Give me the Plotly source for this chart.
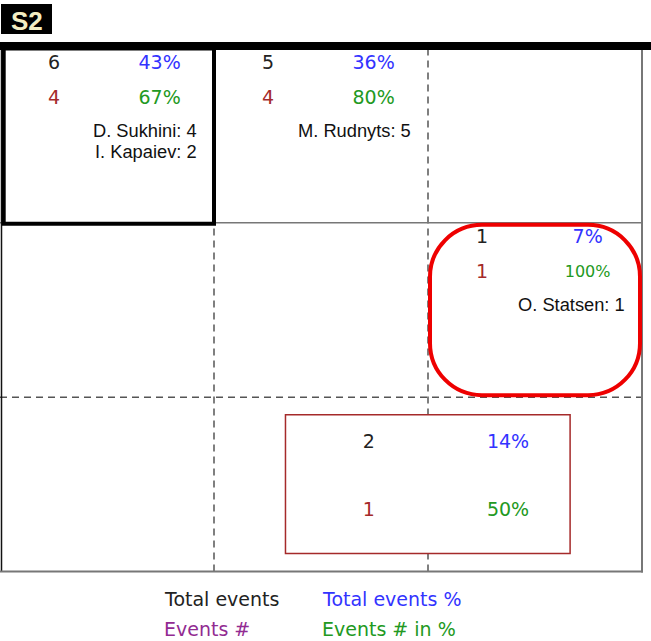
import plotly.graph_objects as go

# ---------------- data ----------------
zone_cols = [0, 1, 2]
zone_rows = [0, 0, 1]
total_events = [6, 5, 1]
total_events_pct = [43, 36, 7]
events_n = [4, 4, 1]
events_pct = [67, 80, 100]
zone_players = [["D. Sukhini", "I. Kapaiev"], ["M. Rudnyts"], ["O. Statsen"]]
zone_player_events = [[4, 2], [5], [1]]

box_total = 2
box_total_pct = 14
box_events = 1
box_events_pct = 50

highlight_zone = (2, 1)   # red rounded
bold_zone = (0, 0)        # black frame

legend_labels = ["Total events", "Total events %", "Events #", "Events # in %"]
title_text = "S2"

# ---------------- geometry / style ----------------
W, H = 651, 641
FX0, FX1, FY0, FY1 = 0.0, 642.0, 48.5, 571.5
NC, NR = 3, 3
CW = (FX1 - FX0) / NC
RH = (FY1 - FY0) / NR

NUM_FONT = "DejaVu Sans"
NAME_FONT = "Liberation Sans"
C_TOTAL = "#222222"
C_TPCT = "#3333ff"
C_EV = "#a52a2a"
C_EPCT = "#229922"
C_LEG_EV = "#922b92"


def cx(col, frac):
    return FX0 + (col + frac) * CW


def cy(row, frac):
    return FY0 + (row + frac) * RH


fig = go.Figure()

shapes = []
dash = "7px,5px"
# grid lines
for k in range(1, NC):
    shapes.append(dict(type="line", x0=FX0 + k * CW, x1=FX0 + k * CW, y0=FY0, y1=FY1,
                       line=dict(color="#555555", width=1.5, dash=dash)))
shapes.append(dict(type="line", x0=FX0, x1=FX1, y0=FY0 + RH, y1=FY0 + RH,
                   line=dict(color="#777777", width=1.5)))
shapes.append(dict(type="line", x0=FX0, x1=FX1, y0=FY0 + 2 * RH, y1=FY0 + 2 * RH,
                   line=dict(color="#555555", width=1.5, dash=dash)))
# borders
shapes.append(dict(type="line", x0=FX0 + 1.5, x1=FX0 + 1.5, y0=FY0, y1=FY1,
                   line=dict(color="#111111", width=1.5)))
shapes.append(dict(type="line", x0=FX1, x1=FX1, y0=FY0, y1=FY1 + 1,
                   line=dict(color="#777777", width=2)))
shapes.append(dict(type="line", x0=FX0, x1=FX1 + 1, y0=FY1, y1=FY1,
                   line=dict(color="#777777", width=2)))
# bold frame zone
bc, br = bold_zone
shapes.append(dict(type="rect", x0=cx(bc, 0) + 3.7, x1=cx(bc, 1), y0=cy(br, 0), y1=cy(br, 1) + 1,
                   line=dict(color="black", width=4)))
# top thick line
shapes.append(dict(type="line", x0=0, x1=W, y0=FY0 - 2.5, y1=FY0 - 2.5,
                   line=dict(color="black", width=8)))

# red rounded zone
hc, hr = highlight_zone
x0, x1 = cx(hc, 0) + 2, cx(hc, 1) - 2
y0, y1 = cy(hr, 0) + 2, cy(hr, 1) - 2
r = 52
k = 0.5523 * r
path = (f"M {x0 + r},{y0} L {x1 - r},{y0} "
        f"C {x1 - r + k},{y0} {x1},{y0 + r - k} {x1},{y0 + r} "
        f"L {x1},{y1 - r} "
        f"C {x1},{y1 - r + k} {x1 - r + k},{y1} {x1 - r},{y1} "
        f"L {x0 + r},{y1} "
        f"C {x0 + r - k},{y1} {x0},{y1 - r + k} {x0},{y1 - r} "
        f"L {x0},{y0 + r} "
        f"C {x0},{y0 + r - k} {x0 + r - k},{y0} {x0 + r},{y0} Z")
shapes.append(dict(type="path", path=path, line=dict(color="#ee0000", width=4)))

# summary box
BX0, BX1 = cx(1, 0.334), cx(2, 0.664)
BY0, BY1 = cy(2, 0.101), cy(2, 0.897)
shapes.append(dict(type="rect", x0=BX0, x1=BX1, y0=BY0, y1=BY1,
                   line=dict(color=C_EV, width=1.5), fillcolor="white"))

# title box
shapes.append(dict(type="rect", x0=1, x1=52, y0=4, y1=34, fillcolor="black",
                   line=dict(width=0)))

for s in shapes:
    s["layer"] = "below"

# ---------------- texts ----------------
def text_trace(xs, ys, texts, color, size, font=NUM_FONT):
    return go.Scatter(x=xs, y=ys, mode="text", text=texts, textposition="middle center",
                      textfont=dict(family=font, size=size, color=color),
                      hoverinfo="skip", showlegend=False)


ROW1, ROW2 = 0.09, 0.29
fig.add_trace(text_trace([cx(c, 0.252) for c in zone_cols], [cy(r_, ROW1) for r_ in zone_rows],
                         [str(v) for v in total_events], C_TOTAL, 19))
fig.add_trace(text_trace([cx(c, 0.746) for c in zone_cols], [cy(r_, ROW1) for r_ in zone_rows],
                         [f"{v}%" for v in total_events_pct], C_TPCT, 19))
fig.add_trace(text_trace([cx(c, 0.252) for c in zone_cols], [cy(r_, ROW2) for r_ in zone_rows],
                         [str(v) for v in events_n], C_EV, 19))
ep_txt = [f"{v}%" for v in events_pct]
fig.add_trace(text_trace([cx(c, 0.746) for c in zone_cols], [cy(r_, ROW2) for r_ in zone_rows],
                         ep_txt, C_EPCT, [16 if len(t) > 3 else 19 for t in ep_txt]))

# summary box texts
bw, bh = BX1 - BX0, BY1 - BY0
fig.add_trace(text_trace([BX0 + 0.293 * bw, BX0 + 0.293 * bw], [BY0 + 0.207 * bh, BY0 + 0.694 * bh],
                         [str(box_total), str(box_events)], [C_TOTAL, C_EV], 19))
fig.add_trace(text_trace([BX0 + 0.782 * bw, BX0 + 0.782 * bw], [BY0 + 0.207 * bh, BY0 + 0.694 * bh],
                         [f"{box_total_pct}%", f"{box_events_pct}%"], [C_TPCT, C_EPCT], 19))

annotations = []
for c, r_, names, evs in zip(zone_cols, zone_rows, zone_players, zone_player_events):
    for i, (n, e) in enumerate(zip(names, evs)):
        annotations.append(dict(x=cx(c, 0.928), y=cy(r_, 0.47 + 0.118 * i), text=f"{n}: {e}",
                                xanchor="right", yanchor="middle", showarrow=False,
                                font=dict(family=NAME_FONT, size=18.3, color="#111111")))

leg_colors = [C_TOTAL, C_TPCT, C_LEG_EV, C_EPCT]
leg_x = [162, 319.5, 162, 319.5]
leg_y = [598.5, 598.5, 628.5, 628.5]
for t, c, lx, ly in zip(legend_labels, leg_colors, leg_x, leg_y):
    annotations.append(dict(x=lx, y=ly, text=t, xanchor="left", yanchor="middle", showarrow=False,
                            font=dict(family=NUM_FONT, size=19, color=c)))

annotations.append(dict(x=26.8, y=20.5, text=f"<b>{title_text}</b>", xanchor="center",
                        yanchor="middle", showarrow=False,
                        font=dict(family=NAME_FONT, size=26, color="#f3eec3")))

fig.update_layout(
    width=W, height=H,
    margin=dict(l=0, r=0, t=0, b=0),
    paper_bgcolor="white", plot_bgcolor="white",
    xaxis=dict(range=[0, W], visible=False, fixedrange=True),
    yaxis=dict(range=[H, 0], visible=False, fixedrange=True),
    shapes=shapes, annotations=annotations, showlegend=False,
)

fig.write_html("out.html", config={"displayModeBar": False},
               post_script="document.body.style.margin='0';document.body.style.overflow='hidden';")
